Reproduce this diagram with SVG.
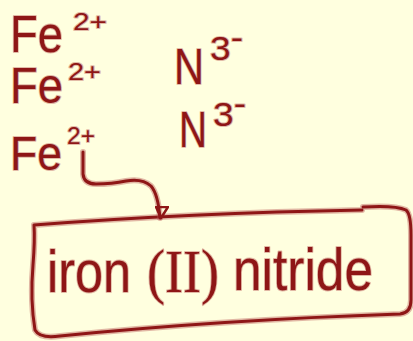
<svg xmlns="http://www.w3.org/2000/svg" width="413" height="341" viewBox="0 0 413 341">
<style>
.t{font-family:"Liberation Sans",Arial,sans-serif;fill:#8e1616;stroke:#b34b4b;stroke-opacity:0.4;stroke-width:2;paint-order:stroke;stroke-linejoin:round}
.ln{fill:none;stroke:#8e1616;stroke-width:3;stroke-linecap:round;stroke-linejoin:round}
.halo{fill:none;stroke:#b34b4b;stroke-opacity:0.4;stroke-width:6;stroke-linecap:round;stroke-linejoin:round}
</style>
<defs>
<marker id="ah" markerWidth="14" markerHeight="14" refX="5" refY="12" orient="0" markerUnits="userSpaceOnUse">
<path d="M1 1 L13 1 L6 12 Z" fill="none" stroke="#8e1616" stroke-width="2.5" stroke-linejoin="round"/>
</marker>
</defs>
<rect width="413" height="341" fill="#ffffdf"/>
<g id="fe1">
<text class="t" x="10" y="52" font-size="52" textLength="53" lengthAdjust="spacingAndGlyphs">Fe</text>
<text class="t" x="73" y="30" font-size="24" textLength="34" lengthAdjust="spacingAndGlyphs">2+</text>
</g>
<g id="fe2">
<text class="t" x="10" y="103" font-size="50" textLength="53" lengthAdjust="spacingAndGlyphs">Fe</text>
<text class="t" x="68" y="80" font-size="24" textLength="33" lengthAdjust="spacingAndGlyphs">2+</text>
</g>
<g id="fe3">
<text class="t" x="10" y="170" font-size="48" textLength="52" lengthAdjust="spacingAndGlyphs">Fe</text>
<text class="t" x="67" y="144" font-size="24" textLength="28" lengthAdjust="spacingAndGlyphs">2+</text>
</g>
<g id="n1">
<text class="t" x="174" y="84" font-size="50" textLength="30" lengthAdjust="spacingAndGlyphs">N</text>
<text class="t" x="210" y="60" font-size="34" textLength="33" lengthAdjust="spacingAndGlyphs">3<tspan dy="-11">-</tspan></text>
</g>
<g id="n2">
<text class="t" x="179" y="147" font-size="50" textLength="28" lengthAdjust="spacingAndGlyphs">N</text>
<text class="t" x="213" y="126" font-size="34" textLength="33" lengthAdjust="spacingAndGlyphs">3<tspan dy="-11">-</tspan></text>
</g>
<g id="iron-nitride">
<path class="halo" d="M34 225 Q190 213 362 210 M363 207 Q395 205 406 210 Q411 214 411 235 L411 300 Q411 313 400 314 Q220 320 60 336 Q40 339 35 330 Q30 300 33 265 Q35 240 34 225"/>
<path class="ln" d="M34 225 Q190 213 362 210 M363 207 Q395 205 406 210 Q411 214 411 235 L411 300 Q411 313 400 314 Q220 320 60 336 Q40 339 35 330 Q30 300 33 265 Q35 240 34 225"/>
<text class="t" x="47" y="292" font-size="60" textLength="84" lengthAdjust="spacingAndGlyphs">iron</text>
<text class="t" x="147" y="292" font-size="62" textLength="72" lengthAdjust="spacingAndGlyphs" style="font-family:'Liberation Serif',serif">(II)</text>
<text class="t" x="233" y="290" font-size="60" textLength="140" lengthAdjust="spacingAndGlyphs">nitride</text>
</g>
<g id="connectors">
<path class="halo" d="M83 152 L83 174 Q84 184 96 184 Q112 184 126 181 Q142 178 151 186 Q158 194 160 218"/>
<path class="ln" d="M83 152 L83 174 Q84 184 96 184 Q112 184 126 181 Q142 178 151 186 Q158 194 160 218" marker-end="url(#ah)"/>
</g>
</svg>
